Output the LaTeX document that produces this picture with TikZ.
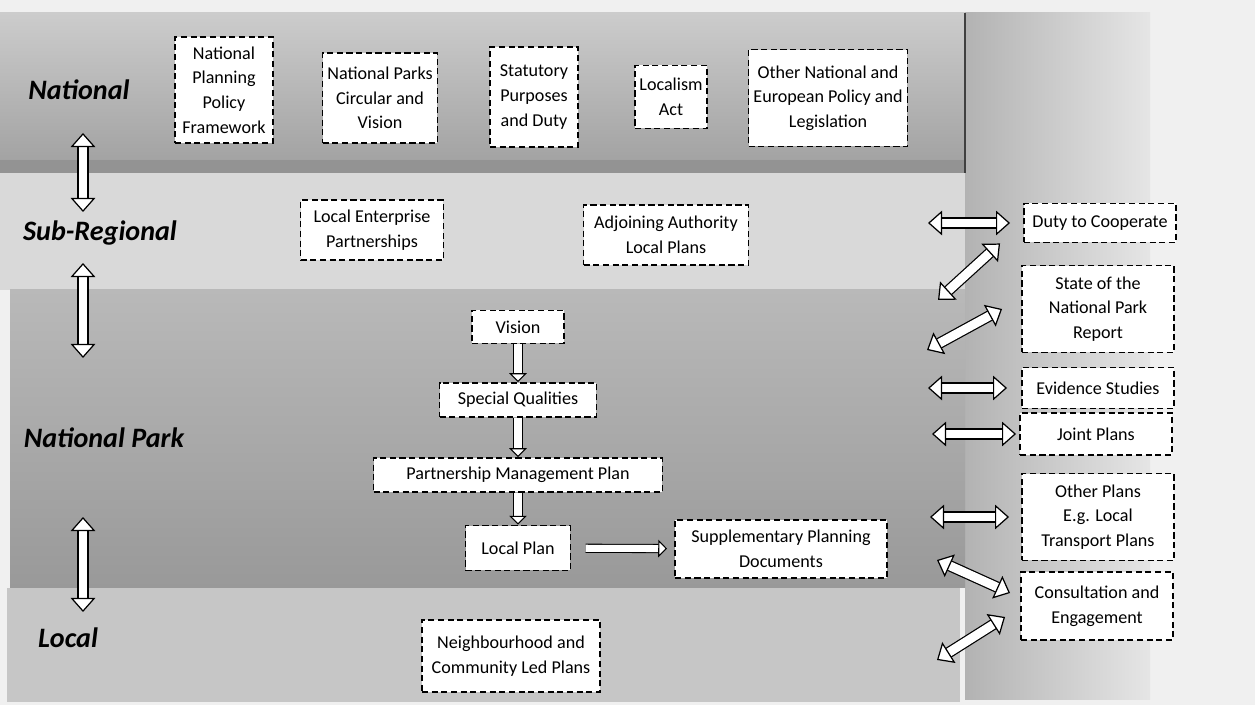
\documentclass[tikz,border=0pt]{standalone}
\usepackage{fontspec}
\setmainfont{Carlito}
\usetikzlibrary{arrows.meta}
\newcommand{\boxfont}{\fontsize{10.3}{14}\selectfont}
\newcommand{\levelfont}{\fontsize{16}{19}\selectfont\bfseries\itshape}
\tikzset{every node/.style={rectangle,draw,fill=white,line width=1.1pt,dash pattern=on 3.5pt off 2pt,align=center,inner sep=2pt,font=\boxfont}}
\tikzset{lvl/.style={draw=none,fill=none,font=\levelfont}}
\tikzset{link/.style={double,double distance=5pt,line width=0.7pt,
  >={Triangle[fill=white,line width=0.7pt,length=8pt,width=14pt]},<->}}
\tikzset{flow/.style={double,double distance=4pt,line width=0.6pt,
  >={Triangle[fill=white,line width=0.6pt,length=5pt,width=10pt]},->}}

\begin{document}
\begin{tikzpicture}[x=0.02cm,y=-0.02cm]
      \useasboundingbox (0,0) rectangle (1255,705);
      % background and bands
      \fill[gray!12] (0,0) rectangle (1255,705);
      \shade[left color=gray!60,right color=gray!20] (965,13) rectangle (1150,700);
      \shade[top color=gray!40,bottom color=gray!75] (0,13) rectangle (965,173);
      \fill[gray!85] (0,160) rectangle (965,173);
      \draw[black!75,line width=1pt] (965,13) -- (965,173);
      \fill[gray!30] (0,173) rectangle (965,290);
      \shade[top color=gray!55,bottom color=gray!80] (10,290) rectangle (965,588);
      \fill[gray!45] (7,588) rectangle (960,702);
      % levels
      \node[lvl] (natl) at (79,90) {National};
      \node[lvl] (subreg) at (100,233) {Sub-Regional};
      \node[lvl] (npark) at (104,438) {National Park};
      \node[lvl] (local) at (68,638) {Local};
      % national
      \node[minimum width=1.96cm,minimum height=2.12cm] (nppf) at (224,90) {National\\Planning\\Policy\\Framework};
      \node[minimum width=2.3cm,minimum height=1.8cm] (circ) at (380,98) {National Parks\\Circular and\\Vision};
      \node[minimum width=1.76cm,minimum height=2cm] (purp) at (534,97) {Statutory\\Purposes\\and Duty};
      \node[minimum width=1.44cm,minimum height=1.26cm] (locact) at (671,97) {Localism\\Act};
      \node[minimum width=3.18cm,minimum height=1.94cm] (euro) at (828,98) {Other National and\\European Policy and\\Legislation};
      % sub-regional
      \node[minimum width=2.86cm,minimum height=1.2cm] (lep) at (372,230) {Local Enterprise\\Partnerships};
      \node[minimum width=3.3cm,minimum height=1.2cm] (adj) at (666,235) {Adjoining Authority\\Local Plans};
      % national park
      \node[minimum width=1.84cm,minimum height=0.66cm] (vision) at (518,327) {Vision};
      \node[minimum width=3.14cm,minimum height=0.68cm] (sq) at (518,400) {Special Qualities};
      \node[minimum width=5.78cm,minimum height=0.68cm] (pmp) at (518,475) {Partnership Management Plan};
      \node[minimum width=2.1cm,minimum height=0.9cm] (lp) at (518,548) {Local Plan};
      \node[minimum width=4.24cm,minimum height=1.16cm] (spd) at (781,549) {Supplementary Planning\\Documents};
      % local
      \node[minimum width=3.56cm,minimum height=1.44cm] (nclp) at (511,656) {Neighbourhood and\\Community Led Plans};
      % right column
      \node[minimum width=3.04cm,minimum height=0.78cm] (duty) at (1100,223) {Duty to Cooperate};
      \node[minimum width=3.04cm,minimum height=1.74cm] (sotnp) at (1098,309) {State of the\\National Park\\Report};
      \node[minimum width=3.04cm,minimum height=0.82cm] (evid) at (1098,388) {Evidence Studies};
      \node[minimum width=3.04cm,minimum height=0.84cm] (joint) at (1096,434) {Joint Plans};
      \node[minimum width=3.04cm,minimum height=1.74cm] (other) at (1098,517) {Other Plans\\E.g. Local\\Transport Plans};
      \node[minimum width=3.04cm,minimum height=1.36cm] (consult) at (1097,606) {Consultation and\\Engagement};
      % arrow ends
      \coordinate (v1a) at (83,133); \coordinate (v1b) at (83,212);
      \coordinate (v2a) at (83,263); \coordinate (v2b) at (83,358);
      \coordinate (v3a) at (83,517); \coordinate (v3b) at (83,612);
      \coordinate (h1) at (928,223); \coordinate (d1) at (938,300);
      \coordinate (d2) at (927,350); \coordinate (h2) at (928,388);
      \coordinate (h3) at (932,434); \coordinate (h4) at (930,517);
      \coordinate (d3) at (937,560); \coordinate (d4) at (937,660);
      \foreach \a/\b in {v1a/v1b,v2a/v2b,v3a/v3b}
        \draw[link] (\a) -- (\b);
      \draw[link] (h1) -- ([xshift=-0.26cm]duty.west);
      \draw[link] (d1) -- ([xshift=-0.46cm]duty.south west);
      \draw[link] (d2) -- ([xshift=-0.38cm]sotnp.west);
      \draw[link] (h2) -- ([xshift=-0.28cm]evid.west);
      \draw[link] (h3) -- ([xshift=-0.06cm]joint.west);
      \draw[link] (h4) -- ([xshift=-0.24cm]other.west);
      \draw[link] (d3) -- ([xshift=-0.2cm,yshift=0.26cm]consult.west);
      \draw[link] (d4) -- ([xshift=-0.3cm,yshift=-0.22cm]consult.west);
      \foreach \a/\b in {vision/sq,sq/pmp,pmp/lp}
        \draw[flow] (\a) -- (\b);
      \draw[flow,shorten <=8pt,shorten >=4pt] (lp) -- (spd);
    \end{tikzpicture}
\end{document}
